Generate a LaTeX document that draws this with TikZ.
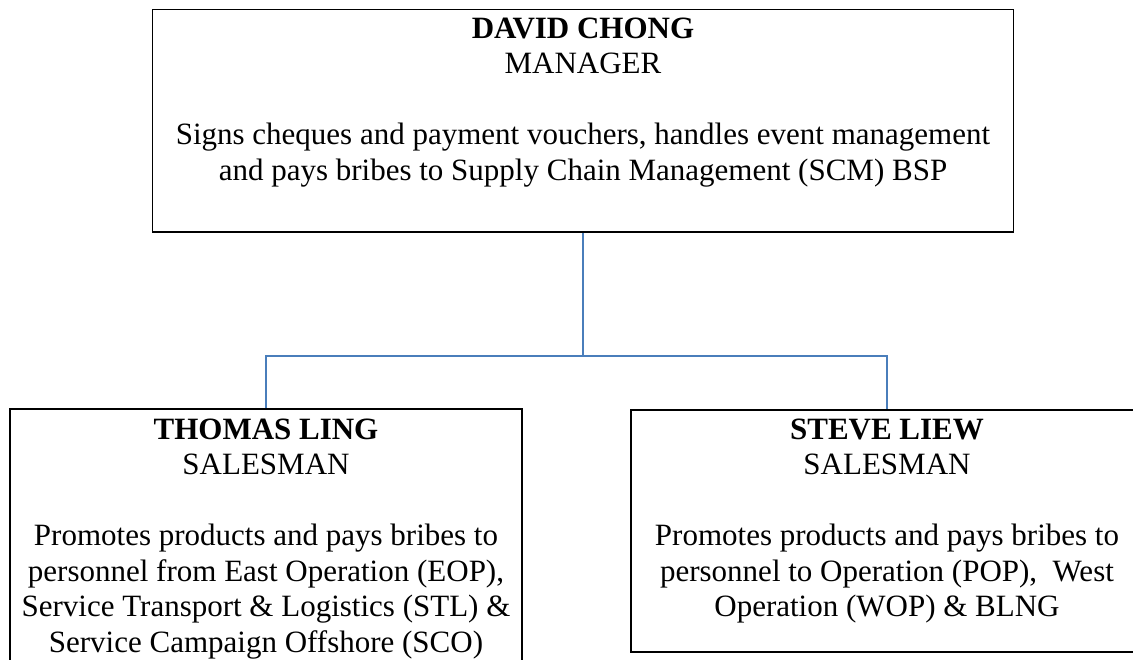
\documentclass[tikz,border=0pt]{standalone}
\usepackage{fontspec}
\setmainfont{Liberation Serif}
\definecolor{linkblue}{RGB}{74,126,187}
\begin{document}
\begin{tikzpicture}[x=0.75pt,y=-0.75pt,
  box/.style={draw=black, line width=1.4pt, rectangle, inner sep=0pt},
  txt/.style={anchor=north, align=center, inner sep=0pt, font=\fontsize{23.25pt}{26.6pt}\selectfont},
  conn/.style={draw=linkblue, line width=1.5pt}]
\useasboundingbox (0,0) rectangle (1133,660);
\node[box, minimum width=645.75pt, minimum height=166.9pt] (david) at (583,120.75) {};
\node[box, minimum width=384pt, minimum height=199.5pt] (thomas) at (266,542) {};
\node[box, minimum width=384pt, minimum height=181.5pt] (steve) at (887,531) {};
\node[txt] (davidtext) at (583,11.33) {\rule{0pt}{20pt}\textbf{DAVID CHONG}\\MANAGER\\[26.6pt]Signs cheques and payment vouchers, handles event management\\and pays bribes to Supply Chain Management (SCM) BSP};
\node[txt] (thomastext) at (266,412.33) {\rule{0pt}{20pt}\textbf{THOMAS LING}\\SALESMAN\\[26.6pt]Promotes products and pays bribes to\\personnel from East Operation (EOP),\\Service Transport \& Logistics (STL) \&\\Service Campaign Offshore (SCO)};
\node[txt] (stevetext) at (887,412.33) {\rule{0pt}{20pt}\textbf{STEVE LIEW}\\SALESMAN\\[26.6pt]Promotes products and pays bribes to\\personnel to Operation (POP), \ West\\Operation (WOP) \& BLNG};
\coordinate (bus) at (583,356);
\draw[conn] (david.south) -- (david.south |- bus);
\draw[conn] (thomas.north) -- (thomas.north |- bus) -- (steve.north |- bus) -- (steve.north);
\end{tikzpicture}
\end{document}
